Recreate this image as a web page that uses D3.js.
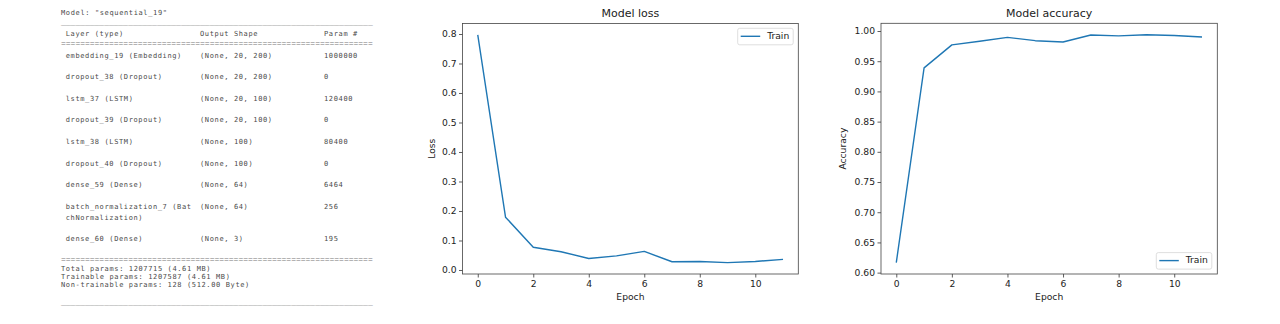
<!DOCTYPE html>
<html>
<head>
<meta charset="utf-8">
<script src="https://cdn.jsdelivr.net/npm/d3@7"></script>
<style>
  html, body { margin: 0; padding: 0; background: #fff; }
  svg { display: block; }
  .mono { font-family: "DejaVu Sans Mono", "Liberation Mono", monospace; font-size: 7px; letter-spacing: 0.63px; fill: #4a4a4a; }
  .rule { font-family: "Liberation Mono", "DejaVu Sans Mono", monospace; font-size: 8px; fill: #777; }
  .mpl { font-family: "DejaVu Sans", sans-serif; fill: #222; }
</style>
</head>
<body>
<svg id="fig" width="1280" height="324"></svg>
<script>
// ---- model summary text ----
const modelName = 'Model: "sequential_19"';
const headerCols = ["Layer (type)", "Output Shape", "Param #"];
const layerNames = ["embedding_19 (Embedding)", "dropout_38 (Dropout)", "lstm_37 (LSTM)",
  "dropout_39 (Dropout)", "lstm_38 (LSTM)", "dropout_40 (Dropout)", "dense_59 (Dense)",
  "batch_normalization_7 (Bat\nchNormalization)", "dense_60 (Dense)"];
const layerShapes = ["(None, 20, 200)", "(None, 20, 200)", "(None, 20, 100)", "(None, 20, 100)",
  "(None, 100)", "(None, 100)", "(None, 64)", "(None, 64)", "(None, 3)"];
const layerParams = ["1000000", "0", "120400", "0", "80400", "0", "6464", "256", "195"];
const totals = ["Total params: 1207715 (4.61 MB)", "Trainable params: 1207587 (4.61 MB)",
  "Non-trainable params: 128 (512.00 Byte)"];

// ---- training history ----
const epochs = [0, 1, 2, 3, 4, 5, 6, 7, 8, 9, 10, 11];
const trainLoss = [0.797, 0.179, 0.077, 0.062, 0.039, 0.048, 0.063, 0.028, 0.029, 0.025, 0.029, 0.036];
const trainAcc = [0.6166, 0.939, 0.977, 0.983, 0.9895, 0.984, 0.9818, 0.9934, 0.992, 0.9939, 0.9925, 0.990];
const lossTicks = [0.0, 0.1, 0.2, 0.3, 0.4, 0.5, 0.6, 0.7, 0.8];
const accTicks = [0.60, 0.65, 0.70, 0.75, 0.80, 0.85, 0.90, 0.95, 1.00];
const epochTicks = [0, 2, 4, 6, 8, 10];
const legendLabel = "Train";

const svg = d3.select("#fig");

// ---- summary panel ----
const summary = svg.append("g");
const colX = [65.7, 200, 324];
const ruleX = 61;
const ruleW = 311.7;
function monoLine(x, y, str, cls) {
  return summary.append("text").attr("class", cls || "mono").attr("x", x).attr("y", y)
    .attr("dominant-baseline", "middle").text(str);
}
function rule(y, ch) {
  return monoLine(ruleX, y, ch.repeat(65), "rule")
    .attr("textLength", ruleW).attr("lengthAdjust", "spacing");
}
monoLine(ruleX, 12.7, modelName);
rule(23, "_");
headerCols.forEach((h, i) => monoLine(colX[i], 33.7, h));
rule(43.5, "=");
const rowY = d3.scaleLinear().domain([0, 1]).range([55.7, 77.3]);
let extra = 0;
layerNames.forEach((name, i) => {
  const y = rowY(i) + extra;
  const parts = name.split("\n");
  parts.forEach((p, j) => monoLine(colX[0], y + j * 11, p));
  monoLine(colX[1], y, layerShapes[i]);
  monoLine(colX[2], y, layerParams[i]);
  if (parts.length > 1) extra += 10.5;
});
rule(259.5, "=");
totals.forEach((t, i) => monoLine(ruleX, 268.6 + i * 8.3, t));
rule(302.5, "_");

// ---- line chart panels ----
const blue = "#1f77b4";
function padded(vals) {
  const [lo, hi] = d3.extent(vals);
  const m = (hi - lo) * 0.05;
  return [lo - m, hi + m];
}

function panel(opts) {
  const { left, right, top, bottom, values, yTicks, yFmt, title, yLabel, legendPos } = opts;
  const g = svg.append("g");
  const x = d3.scaleLinear().domain(padded(epochs)).range([left, right]);
  const y = d3.scaleLinear().domain(padded(values)).range([bottom, top]);

  // axes with outward ticks
  const xa = g.append("g").attr("transform", `translate(0,${bottom})`)
    .call(d3.axisBottom(x).tickValues(epochTicks).tickSize(3.5).tickPadding(2.5).tickFormat(d3.format("d")));
  const ya = g.append("g").attr("transform", `translate(${left},0)`)
    .call(d3.axisLeft(y).tickValues(yTicks).tickSize(3.5).tickPadding(2.5).tickFormat(d3.format(yFmt)));
  [xa, ya].forEach(a => {
    a.select(".domain").remove();
    a.selectAll(".tick line").attr("stroke", "#333").attr("stroke-width", 0.8);
    a.selectAll(".tick text").attr("font-family", "DejaVu Sans, sans-serif")
      .attr("font-size", 9.2).attr("fill", "#222");
  });

  // data line
  g.append("path").datum(epochs.map((e, i) => [e, values[i]]))
    .attr("fill", "none").attr("stroke", blue).attr("stroke-width", 1.4)
    .attr("stroke-linejoin", "round").attr("stroke-linecap", "butt")
    .attr("d", d3.line().x(d => x(d[0])).y(d => y(d[1])));

  // frame
  g.append("rect").attr("x", left).attr("y", top).attr("width", right - left).attr("height", bottom - top)
    .attr("fill", "none").attr("stroke", "#444").attr("stroke-width", 0.8);

  // titles
  g.append("text").attr("class", "mpl").attr("x", (left + right) / 2).attr("y", 14)
    .attr("text-anchor", "middle").attr("dominant-baseline", "middle").attr("font-size", 11).text(title);
  g.append("text").attr("class", "mpl").attr("x", (left + right) / 2).attr("y", 297)
    .attr("text-anchor", "middle").attr("dominant-baseline", "middle").attr("font-size", 9.2).text("Epoch");
  g.append("text").attr("class", "mpl")
    .attr("transform", `translate(${opts.yLabelX},${(top + bottom) / 2}) rotate(-90)`)
    .attr("text-anchor", "middle").attr("dominant-baseline", "middle").attr("font-size", 9.2).text(yLabel);

  // legend
  const lg = g.append("g");
  lg.append("rect").attr("x", legendPos.x).attr("y", legendPos.y).attr("width", 55.5).attr("height", 16.5)
    .attr("rx", 2).attr("fill", "#fff").attr("fill-opacity", 0.8)
    .attr("stroke", "#d6d6d6").attr("stroke-width", 0.8);
  lg.append("line").attr("x1", legendPos.x + 3).attr("x2", legendPos.x + 22.5)
    .attr("y1", legendPos.y + 8).attr("y2", legendPos.y + 8)
    .attr("stroke", blue).attr("stroke-width", 1.4);
  lg.append("text").attr("class", "mpl").attr("x", legendPos.x + 29.5).attr("y", legendPos.y + 8.3)
    .attr("dominant-baseline", "middle").attr("font-size", 9.2).text(legendLabel);
}

panel({ left: 462.5, right: 798.3, top: 23.5, bottom: 274, values: trainLoss, yTicks: lossTicks,
  yFmt: ".1f", title: "Model loss", yLabel: "Loss", yLabelX: 432,
  legendPos: { x: 737.7, y: 28.3 } });
panel({ left: 881, right: 1217.3, top: 23.3, bottom: 274, values: trainAcc, yTicks: accTicks,
  yFmt: ".2f", title: "Model accuracy", yLabel: "Accuracy", yLabelX: 843.5,
  legendPos: { x: 1156.3, y: 252.6 } });
</script>
</body>
</html>
